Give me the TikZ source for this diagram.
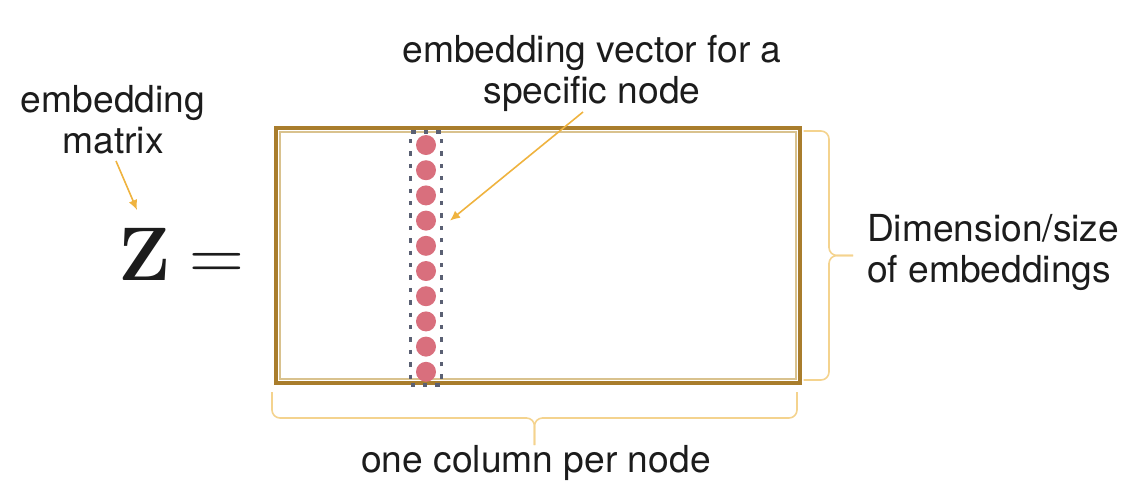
\RequirePackage{fix-cm}
\documentclass[tikz,border=0pt]{standalone}
\usepackage{amsmath}
\usepackage[no-math]{fontspec}
\setmainfont{TeX Gyre Heros}
\usepackage{xcolor}
\newlength{\vgap}
\newlength{\hgap}
\usepackage{tikz}
\usetikzlibrary{positioning}
\usetikzlibrary{fit}
\usetikzlibrary{calc}
\usetikzlibrary{arrows.meta}
\definecolor{gold}{HTML}{A97D2C}
\definecolor{tan}{HTML}{D9C28E}
\definecolor{rose}{HTML}{D96F7D}
\definecolor{slate}{HTML}{5A6073}
\definecolor{amber}{HTML}{EFB33F}
\definecolor{sand}{HTML}{F4D38E}
\definecolor{ink}{HTML}{1C1C1C}
\tikzstyle{mat}=[draw=gold, rectangle, line width=1.8pt]
\tikzstyle{matin}=[draw=tan, rectangle, line width=1pt]
\tikzstyle{entry}=[circle, fill=rose, minimum size=10pt]
\tikzstyle{column}=[draw=slate, rectangle, dash pattern=on 2.2pt off 4pt, line width=1.8pt, inner xsep=2.75pt, inner ysep=1.6pt]
\tikzstyle{lbl}=[text=ink, align=center, font=\fontsize{18.6}{20.5}\selectfont]
\tikzstyle{pointer}=[draw=amber, line width=0.8pt, -{Latex[length=5pt, width=4.5pt]}]
\tikzstyle{curly}=[draw=sand, line width=0.8pt, rounded corners=4pt]

\begin{document}
\begin{tikzpicture}[x=0.5pt, y=-0.5pt, inner sep=0pt, outer sep=0pt]

				\useasboundingbox (0,0) rectangle (1146,494);
				\setlength{\vgap}{2.6pt}
				\setlength{\hgap}{9pt}
				
				\node (Zmat) [mat, minimum width=262pt, minimum height=127.5pt] at (538,255.5) {};
				\node (Zin) [matin, minimum width=258pt, minimum height=123.5pt] at (Zmat) {};
				
				\node (d1) [entry] at (426,145) {};
				\foreach \i [count=\j] in {2,...,10}
				\node (d\i) [entry, below=\vgap of d\j] {};
				\node (col) [column, fit=(d1) (d10)] {};
				%
				\node (zsym) [anchor=base, text=ink, font=\fontsize{38}{38}\selectfont] at (145,280) {$\mathbf{Z}$};
				\node (eqsym) [base right=\hgap of zsym, text=ink, font=\fontsize{38}{38}\selectfont] {$=$};
				
				\node (mlbl) [lbl, anchor=base] at (113,153) {embedding\\matrix};
				\node (vlbl) [lbl, anchor=base] at (592,103) {embedding vector for a\\specific node};
				\node (dlbl) [lbl, align=left, anchor=base west] at (867,282) {Dimension/size\\of embeddings};
				\node (clbl) [lbl, anchor=base] at (536,472) {one column per node};
				
				\draw [pointer] ([shift={(3,8)}]mlbl.base) -- ([shift={(-8,-70)}]zsym.base);
				\draw [pointer] ([shift={(-9,9)}]vlbl.base) -- ([shift={(14,0)}]d4.east);
				
				\coordinate (bl) at ([shift={(-4,9)}]Zmat.south west);
				\coordinate (br) at ([shift={(-3,9)}]Zmat.south east);
				\coordinate (bmid) at ($(bl)!0.5!(br)+(0,26)$);
				\coordinate (btip) at ($(bmid)+(0,27)$);
				\draw [curly] (bl) |- (bmid) -- (btip);
				\draw [curly] (br) |- (bmid) -- (btip);
				
				\coordinate (rt) at ([shift={(3.5,3)}]Zmat.north east);
				\coordinate (rb) at ([shift={(3.5,-3)}]Zmat.south east);
				\coordinate (rmid) at ($(rt)!0.5!(rb)+(25.5,0)$);
				\coordinate (rtip) at ($(rmid)+(24,0)$);
				\draw [curly] (rt) -| (rmid) -- (rtip);
				\draw [curly] (rb) -| (rmid) -- (rtip);
				\end{tikzpicture}
\end{document}
